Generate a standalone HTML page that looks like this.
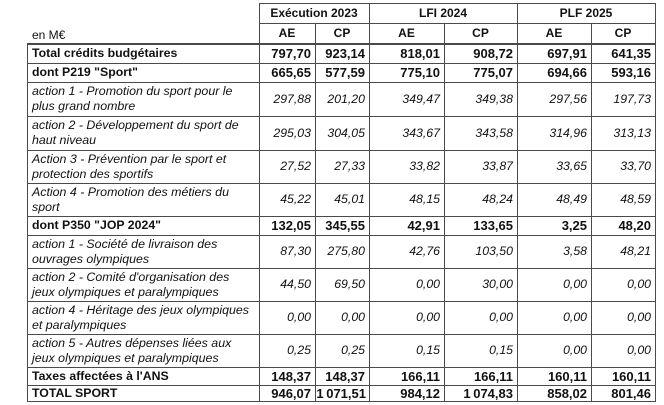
<!DOCTYPE html>
<html>
<head>
<meta charset="utf-8">
<style>
html,body{margin:0;padding:0;background:#fff;}
body{width:664px;height:405px;position:relative;overflow:hidden;font-family:"Liberation Sans",sans-serif;color:#111;font-size:12px;}
.h{position:absolute;height:1px;background:#4a4a4a;}
.v{position:absolute;width:1px;background:#4a4a4a;}
.c{position:absolute;display:flex;align-items:center;line-height:15px;white-space:nowrap;}
.lab{justify-content:flex-start;padding-left:5px;box-sizing:border-box;}
.lab.i{font-size:12.4px;}
.lab.b{font-size:12.3px;}
.num{justify-content:flex-end;padding-right:4px;box-sizing:border-box;}
.num.b{font-size:13px;}
.num.i{font-size:12.3px;}
.ctr{justify-content:center;}
.b{font-weight:bold;}
.i{font-style:italic;}
.tight{letter-spacing:-0.2px;}
</style>
</head>
<body>
<!-- horizontal lines -->
<div class="h" style="left:259px;width:397px;top:3px"></div>
<div class="h" style="left:259px;width:397px;top:23px"></div>
<div class="h" style="left:27px;width:629px;top:43px;height:2px"></div>
<div class="h" style="left:27px;width:629px;top:63px"></div>
<div class="h" style="left:27px;width:629px;top:82px"></div>
<div class="h" style="left:27px;width:629px;top:116px"></div>
<div class="h" style="left:27px;width:629px;top:150px"></div>
<div class="h" style="left:27px;width:629px;top:183px"></div>
<div class="h" style="left:27px;width:629px;top:216px"></div>
<div class="h" style="left:27px;width:629px;top:235px"></div>
<div class="h" style="left:27px;width:629px;top:268px"></div>
<div class="h" style="left:27px;width:629px;top:301px"></div>
<div class="h" style="left:27px;width:629px;top:334px"></div>
<div class="h" style="left:27px;width:629px;top:367px"></div>
<div class="h" style="left:27px;width:629px;top:385px"></div>
<div class="h" style="left:27px;width:629px;top:401px"></div>
<!-- vertical lines -->
<div class="v" style="left:27px;top:43px;height:359px"></div>
<div class="v" style="left:259px;top:3px;height:399px"></div>
<div class="v" style="left:315px;top:23px;height:379px"></div>
<div class="v" style="left:369px;top:3px;height:399px"></div>
<div class="v" style="left:444px;top:23px;height:379px"></div>
<div class="v" style="left:517px;top:3px;height:399px"></div>
<div class="v" style="left:591px;top:23px;height:379px"></div>
<div class="v" style="left:655px;top:3px;height:399px"></div>

<!-- header -->
<div class="c ctr b" style="left:259px;width:110px;top:3px;height:20px">Exécution 2023</div>
<div class="c ctr b" style="left:369px;width:148px;top:3px;height:20px">LFI 2024</div>
<div class="c ctr b" style="left:517px;width:138px;top:3px;height:20px">PLF 2025</div>
<div class="c lab" style="left:27px;width:232px;top:25px;height:20px">en M€</div>
<div class="c ctr b" style="left:259px;width:56px;top:23px;height:20px">AE</div>
<div class="c ctr b" style="left:315px;width:54px;top:23px;height:20px">CP</div>
<div class="c ctr b" style="left:369px;width:75px;top:23px;height:20px">AE</div>
<div class="c ctr b" style="left:444px;width:73px;top:23px;height:20px">CP</div>
<div class="c ctr b" style="left:517px;width:74px;top:23px;height:20px">AE</div>
<div class="c ctr b" style="left:591px;width:64px;top:23px;height:20px">CP</div>

<!-- Row 1 -->
<div class="c lab b" style="left:27px;width:232px;top:44px;height:19px">Total crédits budgétaires</div>
<div class="c num b" style="left:259px;width:56px;top:44px;height:19px">797,70</div>
<div class="c num b" style="left:315px;width:54px;top:44px;height:19px">923,14</div>
<div class="c num b" style="left:369px;width:75px;top:44px;height:19px">818,01</div>
<div class="c num b" style="left:444px;width:73px;top:44px;height:19px">908,72</div>
<div class="c num b" style="left:517px;width:74px;top:44px;height:19px">697,91</div>
<div class="c num b" style="left:591px;width:64px;top:44px;height:19px">641,35</div>
<!-- Row 2 -->
<div class="c lab b" style="left:27px;width:232px;top:63px;height:19px">dont P219 "Sport"</div>
<div class="c num b" style="left:259px;width:56px;top:63px;height:19px">665,65</div>
<div class="c num b" style="left:315px;width:54px;top:63px;height:19px">577,59</div>
<div class="c num b" style="left:369px;width:75px;top:63px;height:19px">775,10</div>
<div class="c num b" style="left:444px;width:73px;top:63px;height:19px">775,07</div>
<div class="c num b" style="left:517px;width:74px;top:63px;height:19px">694,66</div>
<div class="c num b" style="left:591px;width:64px;top:63px;height:19px">593,16</div>
<!-- Row 3 -->
<div class="c lab i" style="left:27px;width:232px;top:82px;height:34px">action 1 - Promotion du sport pour le<br>plus grand nombre</div>
<div class="c num i" style="left:259px;width:56px;top:82px;height:34px">297,88</div>
<div class="c num i" style="left:315px;width:54px;top:82px;height:34px">201,20</div>
<div class="c num i" style="left:369px;width:75px;top:82px;height:34px">349,47</div>
<div class="c num i" style="left:444px;width:73px;top:82px;height:34px">349,38</div>
<div class="c num i" style="left:517px;width:74px;top:82px;height:34px">297,56</div>
<div class="c num i" style="left:591px;width:64px;top:82px;height:34px">197,73</div>
<!-- Row 4 -->
<div class="c lab i" style="left:27px;width:232px;top:116px;height:34px">action 2 - Développement du sport de<br>haut niveau</div>
<div class="c num i" style="left:259px;width:56px;top:116px;height:34px">295,03</div>
<div class="c num i" style="left:315px;width:54px;top:116px;height:34px">304,05</div>
<div class="c num i" style="left:369px;width:75px;top:116px;height:34px">343,67</div>
<div class="c num i" style="left:444px;width:73px;top:116px;height:34px">343,58</div>
<div class="c num i" style="left:517px;width:74px;top:116px;height:34px">314,96</div>
<div class="c num i" style="left:591px;width:64px;top:116px;height:34px">313,13</div>
<!-- Row 5 -->
<div class="c lab i" style="left:27px;width:232px;top:150px;height:33px">Action 3 - Prévention par le sport et<br>protection des sportifs</div>
<div class="c num i" style="left:259px;width:56px;top:150px;height:33px">27,52</div>
<div class="c num i" style="left:315px;width:54px;top:150px;height:33px">27,33</div>
<div class="c num i" style="left:369px;width:75px;top:150px;height:33px">33,82</div>
<div class="c num i" style="left:444px;width:73px;top:150px;height:33px">33,87</div>
<div class="c num i" style="left:517px;width:74px;top:150px;height:33px">33,65</div>
<div class="c num i" style="left:591px;width:64px;top:150px;height:33px">33,70</div>
<!-- Row 6 -->
<div class="c lab i" style="left:27px;width:232px;top:183px;height:33px">Action 4 - Promotion des métiers du<br>sport</div>
<div class="c num i" style="left:259px;width:56px;top:183px;height:33px">45,22</div>
<div class="c num i" style="left:315px;width:54px;top:183px;height:33px">45,01</div>
<div class="c num i" style="left:369px;width:75px;top:183px;height:33px">48,15</div>
<div class="c num i" style="left:444px;width:73px;top:183px;height:33px">48,24</div>
<div class="c num i" style="left:517px;width:74px;top:183px;height:33px">48,49</div>
<div class="c num i" style="left:591px;width:64px;top:183px;height:33px">48,59</div>
<!-- Row 7 -->
<div class="c lab b" style="left:27px;width:232px;top:216px;height:19px">dont P350 "JOP 2024"</div>
<div class="c num b" style="left:259px;width:56px;top:216px;height:19px">132,05</div>
<div class="c num b" style="left:315px;width:54px;top:216px;height:19px">345,55</div>
<div class="c num b" style="left:369px;width:75px;top:216px;height:19px">42,91</div>
<div class="c num b" style="left:444px;width:73px;top:216px;height:19px">133,65</div>
<div class="c num b" style="left:517px;width:74px;top:216px;height:19px">3,25</div>
<div class="c num b" style="left:591px;width:64px;top:216px;height:19px">48,20</div>
<!-- Row 8 -->
<div class="c lab i" style="left:27px;width:232px;top:235px;height:33px">action 1 - Société de livraison des<br>ouvrages olympiques</div>
<div class="c num i" style="left:259px;width:56px;top:235px;height:33px">87,30</div>
<div class="c num i" style="left:315px;width:54px;top:235px;height:33px">275,80</div>
<div class="c num i" style="left:369px;width:75px;top:235px;height:33px">42,76</div>
<div class="c num i" style="left:444px;width:73px;top:235px;height:33px">103,50</div>
<div class="c num i" style="left:517px;width:74px;top:235px;height:33px">3,58</div>
<div class="c num i" style="left:591px;width:64px;top:235px;height:33px">48,21</div>
<!-- Row 9 -->
<div class="c lab i" style="left:27px;width:232px;top:268px;height:33px">action 2 - Comité d'organisation des<br>jeux olympiques et paralympiques</div>
<div class="c num i" style="left:259px;width:56px;top:268px;height:33px">44,50</div>
<div class="c num i" style="left:315px;width:54px;top:268px;height:33px">69,50</div>
<div class="c num i" style="left:369px;width:75px;top:268px;height:33px">0,00</div>
<div class="c num i" style="left:444px;width:73px;top:268px;height:33px">30,00</div>
<div class="c num i" style="left:517px;width:74px;top:268px;height:33px">0,00</div>
<div class="c num i" style="left:591px;width:64px;top:268px;height:33px">0,00</div>
<!-- Row 10 -->
<div class="c lab i" style="left:27px;width:232px;top:301px;height:33px">action 4 - Héritage des jeux olympiques<br>et paralympiques</div>
<div class="c num i" style="left:259px;width:56px;top:301px;height:33px">0,00</div>
<div class="c num i" style="left:315px;width:54px;top:301px;height:33px">0,00</div>
<div class="c num i" style="left:369px;width:75px;top:301px;height:33px">0,00</div>
<div class="c num i" style="left:444px;width:73px;top:301px;height:33px">0,00</div>
<div class="c num i" style="left:517px;width:74px;top:301px;height:33px">0,00</div>
<div class="c num i" style="left:591px;width:64px;top:301px;height:33px">0,00</div>
<!-- Row 11 -->
<div class="c lab i" style="left:27px;width:232px;top:334px;height:33px">action 5 - Autres dépenses liées aux<br>jeux olympiques et paralympiques</div>
<div class="c num i" style="left:259px;width:56px;top:334px;height:33px">0,25</div>
<div class="c num i" style="left:315px;width:54px;top:334px;height:33px">0,25</div>
<div class="c num i" style="left:369px;width:75px;top:334px;height:33px">0,15</div>
<div class="c num i" style="left:444px;width:73px;top:334px;height:33px">0,15</div>
<div class="c num i" style="left:517px;width:74px;top:334px;height:33px">0,00</div>
<div class="c num i" style="left:591px;width:64px;top:334px;height:33px">0,00</div>
<!-- Row 12 -->
<div class="c lab b" style="left:27px;width:232px;top:367px;height:18px">Taxes affectées à l'ANS</div>
<div class="c num b" style="left:259px;width:56px;top:367px;height:18px">148,37</div>
<div class="c num b" style="left:315px;width:54px;top:367px;height:18px">148,37</div>
<div class="c num b" style="left:369px;width:75px;top:367px;height:18px">166,11</div>
<div class="c num b" style="left:444px;width:73px;top:367px;height:18px">166,11</div>
<div class="c num b" style="left:517px;width:74px;top:367px;height:18px">160,11</div>
<div class="c num b" style="left:591px;width:64px;top:367px;height:18px">160,11</div>
<!-- Row 13 -->
<div class="c lab b" style="left:27px;width:232px;top:385px;height:16px">TOTAL SPORT</div>
<div class="c num b" style="left:259px;width:56px;top:385px;height:16px">946,07</div>
<div class="c num b tight" style="left:315px;width:54px;top:385px;height:16px;padding-right:3px">1&#8239;071,51</div>
<div class="c num b" style="left:369px;width:75px;top:385px;height:16px">984,12</div>
<div class="c num b" style="left:444px;width:73px;top:385px;height:16px">1&#8239;074,83</div>
<div class="c num b" style="left:517px;width:74px;top:385px;height:16px">858,02</div>
<div class="c num b" style="left:591px;width:64px;top:385px;height:16px">801,46</div>
</body>
</html>
